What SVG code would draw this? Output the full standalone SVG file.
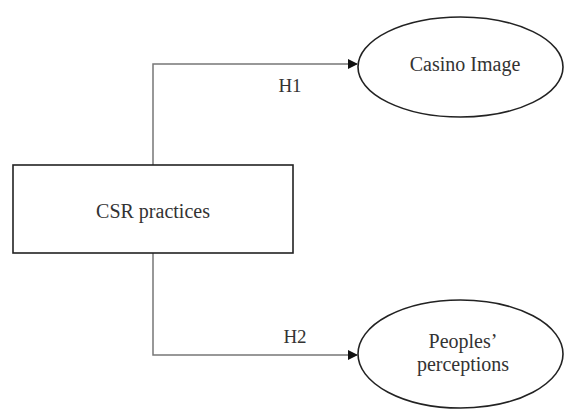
<svg xmlns="http://www.w3.org/2000/svg" width="565" height="411" viewBox="0 0 565 411">
<defs>
<style>
.node{fill:#fff;stroke:#222;stroke-width:1.6}
.lbl{font-family:"Liberation Serif","Times New Roman",serif;font-size:20px;fill:#333;text-anchor:middle}
.hl{font-family:"Liberation Serif","Times New Roman",serif;font-size:19px;fill:#333;text-anchor:middle}
.conn{fill:none;stroke:#777;stroke-width:1.5}
</style>
<marker id="arr" markerWidth="10" markerHeight="10" refX="9" refY="5" orient="auto" markerUnits="userSpaceOnUse">
<path d="M0,0 L10,5 L0,10 z" fill="#111"/>
</marker>
</defs>
<rect width="565" height="411" fill="#fff"/>
<g id="connectors">
<polyline class="conn" points="153,165 153,64 357,64" marker-end="url(#arr)"/>
<polyline class="conn" points="153,253 153,355 357,355" marker-end="url(#arr)"/>
<text class="hl" x="290" y="92">H1</text>
<text class="hl" x="295" y="343">H2</text>
</g>
<g id="csr">
<rect class="node" x="13" y="165" width="280" height="88"/>
<text class="lbl" x="153" y="218">CSR practices</text>
</g>
<g id="casino">
<ellipse class="node" cx="460.5" cy="67" rx="102.5" ry="50"/>
<text class="lbl" x="465" y="71">Casino Image</text>
</g>
<g id="peoples">
<ellipse class="node" cx="460.5" cy="354" rx="102.5" ry="54"/>
<text class="lbl" x="463" y="348">Peoples’</text>
<text class="lbl" x="463" y="371">perceptions</text>
</g>
</svg>
